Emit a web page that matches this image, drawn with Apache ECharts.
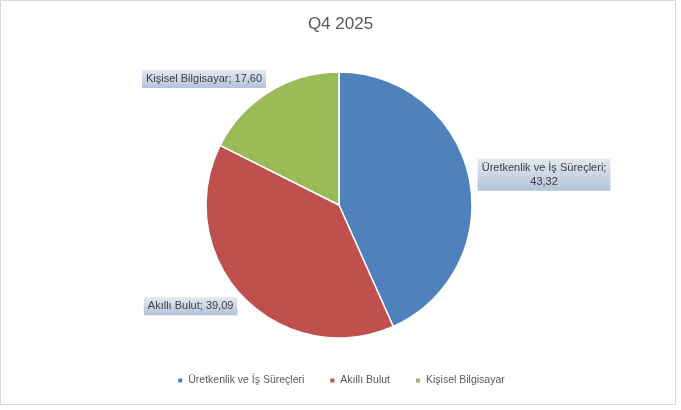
<!DOCTYPE html>
<html>
<head>
<meta charset="utf-8">
<script src="https://cdn.jsdelivr.net/npm/echarts@6/dist/echarts.min.js"></script>
<style>
  html, body { margin: 0; padding: 0; background: #fff; }
  #chart { width: 681px; height: 410px; }
</style>
</head>
<body>
<div id="chart"></div>
<script>
const chartTitle = 'Q4 2025'
const categories = ['Üretkenlik ve İş Süreçleri', 'Akıllı Bulut', 'Kişisel Bilgisayar']
const values = [43.32, 39.09, 17.60]
const colors = ['#4F81BD', '#C0504D', '#9BBB59']

const font = '"Liberation Sans", Arial, sans-serif'

const chart = echarts.init(document.getElementById('chart'))

const labelBg = new echarts.graphic.LinearGradient(0, 0, 0, 1, [
  { offset: 0, color: '#e3e9f2' },
  { offset: 1, color: '#b3c3da' }
])

// Excel style "name; value" with comma decimals
const fmt = (v) => v.toFixed(2).replace('.', ',')

chart.setOption({
  backgroundColor: '#fff',
  animation: false,
  title: {
    text: chartTitle,
    left: 'center',
    top: 11,
    textStyle: { color: '#595959', fontSize: 17, fontWeight: 'normal', fontFamily: font }
  },
  legend: {
    bottom: 19,
    left: 'center',
    icon: 'rect',
    itemWidth: 6,
    itemHeight: 6,
    itemGap: 24,
    data: categories,
    textStyle: { color: '#595959', fontSize: 10.5, fontFamily: font }
  },
  graphic: [{
    type: 'rect',
    shape: { x: 0.5, y: 0.5, width: 675, height: 404 },
    style: { fill: null, stroke: '#d9d9d9', lineWidth: 1 },
    silent: true
  }],
  series: [{
    type: 'pie',
    center: [339, 205],
    radius: 133,
    startAngle: 90,
    clockwise: true,
    avoidLabelOverlap: false,
    itemStyle: { borderColor: '#fff', borderWidth: 1.5 },
    label: {
      show: true,
      position: 'outside',
      distanceToLabelLine: 5,
      color: '#404040',
      fontSize: 11,
      fontFamily: font,
      lineHeight: 14,
      padding: [2, 4, 2, 4],
      backgroundColor: labelBg,
      formatter: (p) => p.dataIndex === 0
        ? p.name + ';\n' + fmt(p.value)
        : p.name + '; ' + fmt(p.value)
    },
    labelLine: { show: false, length: 2, length2: 4 },
    labelLayout: (p) => {
      if (p.dataIndex === 0) return { dy: -2, align: 'center', dx: 64 }
      if (p.dataIndex === 1) return { dy: 8, dx: 5 }
      return { dy: -11, dx: 7 }
    },
    emphasis: { disabled: true },
    data: categories.map((name, i) => ({
      name: name,
      value: values[i],
      itemStyle: { color: colors[i] }
    }))
  }]
})
</script>
</body>
</html>
